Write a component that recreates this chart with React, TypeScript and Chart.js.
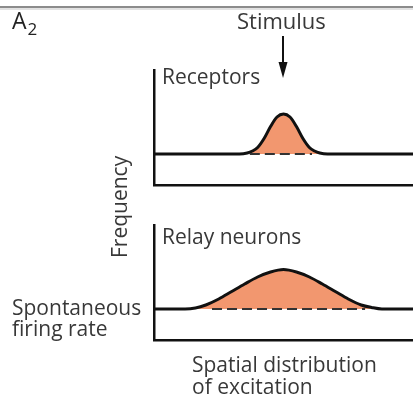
import React, { useEffect, useRef } from "react";
import { Chart, registerables } from "chart.js";

Chart.register(...registerables);

// Spatial position (0..100 across the axis) and frequency values
const receptorX = [0, 33, 36, 38, 40, 42.5, 45, 47.5, 50, 52.5, 55, 57.5, 60, 62, 64, 67, 100];
const receptorY = [3.1, 3.1, 3.2, 3.4, 3.75, 4.65, 5.85, 6.8, 7.1, 6.8, 5.85, 4.65, 3.75, 3.4, 3.2, 3.1, 3.1];

const relayX = [0, 12, 16, 20, 25, 30, 35, 40, 45, 50, 55, 60, 65, 70, 75, 80, 84, 88, 100];
const relayY = [3.1, 3.1, 3.2, 3.5, 4.1, 4.85, 5.6, 6.3, 6.8, 7.05, 6.8, 6.3, 5.6, 4.85, 4.1, 3.5, 3.25, 3.1, 3.1];

const spontaneousRate = 3.1;
const receptorDashX = [37, 61];
const relayDashX = [22.4, 81.5];

const xLimits = [0, 100];
const yLimits = [0, 11.5];

const FILL = "#F2976F";
const INK = "#111111";
const TEXT = "#383838";
const FONT = '"Open Sans", "DejaVu Sans", sans-serif';
const W = 413;
const H = 401;

function makeConfig(xs: number[], ys: number[], dashXs: number[], padding: any): any {
  return {
    type: "line",
    data: {
      datasets: [
        {
          data: dashXs.map((x) => ({ x, y: spontaneousRate })),
          borderColor: "#333333",
          borderWidth: 2.2,
          borderDash: [10, 5],
          pointRadius: 0,
          fill: false,
          order: 0,
        },
        {
          data: xs.map((x, i) => ({ x, y: ys[i] })),
          borderColor: INK,
          borderWidth: 3,
          pointRadius: 0,
          cubicInterpolationMode: "monotone",
          fill: { value: spontaneousRate },
          backgroundColor: FILL,
          order: 1,
        },
      ],
    },
    options: {
      animation: false,
      responsive: false,
      devicePixelRatio: 1,
      events: [],
      layout: { padding },
      plugins: {
        legend: { display: false },
        tooltip: { enabled: false },
        title: { display: false },
      },
      scales: {
        x: {
          type: "linear",
          min: xLimits[0],
          max: xLimits[1],
          grid: { display: false, drawTicks: false },
          ticks: { display: false },
          border: { display: true, color: INK, width: 2.5 },
        },
        y: {
          type: "linear",
          min: yLimits[0],
          max: yLimits[1],
          grid: { display: false, drawTicks: false },
          ticks: { display: false },
          border: { display: true, color: INK, width: 2.5 },
        },
      },
    },
  };
}

function Label(props: { text: string; x: number; baseline: number; size: number }) {
  const { text, x, baseline, size } = props;
  return (
    <div
      style={{
        position: "absolute",
        left: x,
        top: baseline - 0.888 * size,
        fontSize: size,
        lineHeight: `${size}px`,
        fontFamily: FONT,
        color: TEXT,
        whiteSpace: "nowrap",
      }}
    >
      {text}
    </div>
  );
}

export default function App() {
  const topRef = useRef<HTMLCanvasElement | null>(null);
  const botRef = useRef<HTMLCanvasElement | null>(null);

  useEffect(() => {
    const c1 = new Chart(
      topRef.current as HTMLCanvasElement,
      makeConfig(receptorX, receptorY, receptorDashX, { left: 154, top: 70, right: 0, bottom: H - 185 })
    );
    const c2 = new Chart(
      botRef.current as HTMLCanvasElement,
      makeConfig(relayX, relayY, relayDashX, { left: 154, top: 225, right: 0, bottom: H - 340 })
    );
    return () => {
      c1.destroy();
      c2.destroy();
    };
  }, []);

  const canvasStyle: React.CSSProperties = { position: "absolute", left: 0, top: 0, width: W, height: H };

  return (
    <div style={{ position: "fixed", left: 0, top: 0, width: W, height: H, background: "#fff", overflow: "hidden" }}>
      <div style={{ position: "absolute", left: 0, top: 6, width: W, height: 2, background: "#8c8c8c" }} />
      <div style={{ position: "absolute", left: 0, top: 8, width: W, height: 2, background: "#e2e2e2" }} />
      <canvas ref={topRef} width={W} height={H} style={canvasStyle} />
      <canvas ref={botRef} width={W} height={H} style={canvasStyle} />
      <svg width={W} height={H} style={{ position: "absolute", left: 0, top: 0 }}>
        <line x1={283} y1={36} x2={283} y2={64} stroke={INK} strokeWidth={2} />
        <polygon points="278.5,62 287.5,62 283,78" fill={INK} />
      </svg>
      <div
        style={{
          position: "absolute",
          left: 12,
          top: 29 - 0.888 * 23,
          fontSize: 23,
          lineHeight: "23px",
          fontFamily: FONT,
          color: "#222",
          whiteSpace: "nowrap",
        }}
      >
        A<span style={{ fontSize: 17, position: "relative", top: 6, marginLeft: 1 }}>2</span>
      </div>
      <Label text="Stimulus" x={237} baseline={29} size={22} />
      <Label text="Receptors" x={162} baseline={85} size={21} />
      <Label text="Relay neurons" x={162} baseline={245} size={21} />
      <Label text="Spontaneous" x={12} baseline={316} size={21} />
      <Label text="firing rate" x={12} baseline={337} size={21} />
      <Label text="Spatial distribution" x={192} baseline={373} size={21} />
      <Label text="of excitation" x={192} baseline={395} size={21} />
      <div
        style={{
          position: "absolute",
          left: 128 - 0.888 * 21,
          top: 258,
          fontSize: 21,
          lineHeight: "21px",
          fontFamily: FONT,
          color: TEXT,
          whiteSpace: "nowrap",
          transformOrigin: "0 0",
          transform: "rotate(-90deg)",
        }}
      >
        Frequency
      </div>
    </div>
  );
}
